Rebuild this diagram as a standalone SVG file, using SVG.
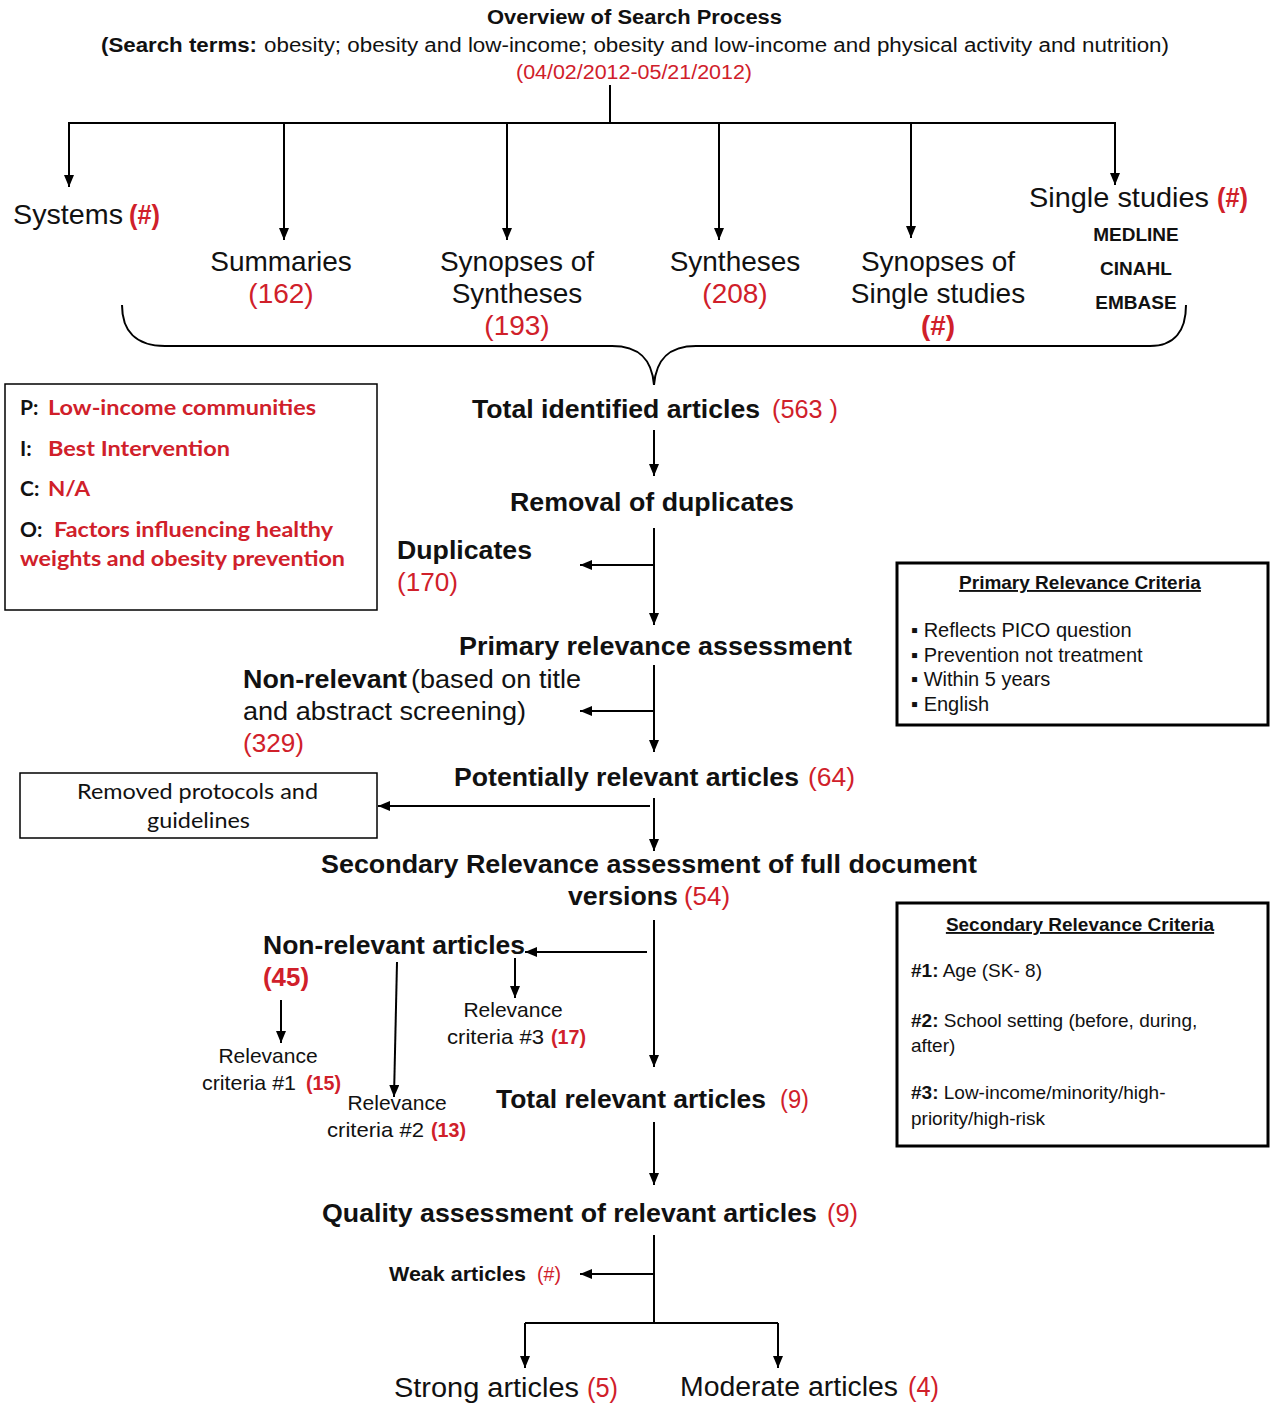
<svg xmlns="http://www.w3.org/2000/svg" width="1270" height="1403" viewBox="0 0 1270 1403">
<defs>
<marker id="ah" markerUnits="userSpaceOnUse" viewBox="0 0 12 10" markerWidth="12" markerHeight="10" refX="12" refY="5" orient="auto">
<path d="M0,0 L12,5 L0,10 z" fill="#000"/>
</marker>
<style>
.ln{stroke:#000;stroke-width:2;fill:none}
.ar{stroke:#000;stroke-width:2;fill:none;marker-end:url(#ah)}
.nar{font-family:"Liberation Sans",Arial,sans-serif;fill:#111}
.ar27{font-family:"Liberation Sans",Arial,sans-serif;font-size:28px;fill:#111}
.tah{font-family:"Liberation Sans",Arial,sans-serif;font-size:26px;font-weight:bold;fill:#111}
.cal{font-family:Lato,"Open Sans",sans-serif;font-size:21px;fill:#111}
.red{fill:#d0202a}
.box{fill:#fff;stroke:#000}
</style>
</defs>
<rect width="1270" height="1403" fill="#fff"/>

<g id="connectors">
<line class="ln" x1="610" y1="85" x2="610" y2="123"/>
<line class="ln" x1="68" y1="123" x2="1116" y2="123"/>
<line class="ar" x1="69" y1="123" x2="69" y2="187"/>
<line class="ar" x1="284" y1="123" x2="284" y2="240"/>
<line class="ar" x1="507" y1="123" x2="507" y2="240"/>
<line class="ar" x1="719" y1="123" x2="719" y2="240"/>
<line class="ar" x1="911" y1="123" x2="911" y2="238"/>
<line class="ar" x1="1115" y1="123" x2="1115" y2="185"/>
<path class="ln" d="M122,305 C122,330 135,346 165,346 L612,346 C640,346 652,360 654,385 C656,360 668,346 696,346 L1150,346 C1175,346 1186,330 1186,305"/>
<line class="ar" x1="654" y1="430" x2="654" y2="476"/>
<line class="ar" x1="654" y1="528" x2="654" y2="625"/>
<line class="ar" x1="654" y1="565" x2="580" y2="565"/>
<line class="ar" x1="654" y1="665" x2="654" y2="752"/>
<line class="ar" x1="654" y1="711" x2="580" y2="711"/>
<line class="ar" x1="654" y1="798" x2="654" y2="851"/>
<line class="ar" x1="650" y1="806" x2="378" y2="806"/>
<line class="ar" x1="654" y1="920" x2="654" y2="1067"/>
<line class="ar" x1="647" y1="952" x2="525" y2="952"/>
<line class="ar" x1="515" y1="958" x2="515" y2="998"/>
<line class="ar" x1="281" y1="1000" x2="281" y2="1043"/>
<line class="ar" x1="397" y1="962" x2="394" y2="1097"/>
<line class="ar" x1="654" y1="1122" x2="654" y2="1185"/>
<line class="ln" x1="654" y1="1235" x2="654" y2="1323"/>
<line class="ar" x1="654" y1="1274" x2="580" y2="1274"/>
<line class="ln" x1="525" y1="1323" x2="778" y2="1323"/>
<line class="ar" x1="525" y1="1323" x2="525" y2="1368"/>
<line class="ar" x1="778" y1="1323" x2="778" y2="1368"/>
</g>

<g id="header">
<text class="nar" x="487" y="24" font-size="20" font-weight="bold" textLength="295" lengthAdjust="spacingAndGlyphs">Overview of Search Process</text>
<text class="nar" x="101" y="52" font-size="20" font-weight="bold" textLength="156" lengthAdjust="spacingAndGlyphs">(Search terms:</text>
<text class="nar" x="264" y="52" font-size="20" textLength="905" lengthAdjust="spacingAndGlyphs">obesity; obesity and low-income; obesity and low-income and physical activity and nutrition)</text>
<text class="nar red" x="516" y="79" font-size="20" textLength="236" lengthAdjust="spacingAndGlyphs">(04/02/2012-05/21/2012)</text>
</g>

<g id="systems">
<text class="ar27" x="13" y="224" textLength="110" lengthAdjust="spacingAndGlyphs">Systems</text>
<text class="ar27 red" x="129" y="224" font-weight="bold" textLength="31" lengthAdjust="spacingAndGlyphs">(#)</text>
</g>
<g id="summaries" text-anchor="middle">
<text class="ar27" x="281" y="271">Summaries</text>
<text class="ar27 red" x="281" y="303">(162)</text>
</g>
<g id="synopses-syntheses" text-anchor="middle">
<text class="ar27" x="517" y="271">Synopses of</text>
<text class="ar27" x="517" y="303">Syntheses</text>
<text class="ar27 red" x="517" y="335">(193)</text>
</g>
<g id="syntheses" text-anchor="middle">
<text class="ar27" x="735" y="271">Syntheses</text>
<text class="ar27 red" x="735" y="303">(208)</text>
</g>
<g id="synopses-single" text-anchor="middle">
<text class="ar27" x="938" y="271">Synopses of</text>
<text class="ar27" x="938" y="303">Single studies</text>
<text class="ar27 red" x="938" y="335" font-weight="bold">(#)</text>
</g>
<g id="single-studies">
<text class="ar27" x="1029" y="207" textLength="180" lengthAdjust="spacingAndGlyphs">Single studies</text>
<text class="ar27 red" x="1217" y="207" font-weight="bold" textLength="31" lengthAdjust="spacingAndGlyphs">(#)</text>
<g text-anchor="middle" class="nar" font-size="19" font-weight="bold">
<text x="1136" y="241">MEDLINE</text>
<text x="1136" y="275">CINAHL</text>
<text x="1136" y="309">EMBASE</text>
</g>
</g>

<g id="pico">
<rect class="box" x="5" y="384" width="372" height="226" stroke-width="1.5"/>
<g class="cal" font-weight="bold">
<text x="20" y="415">P:</text>
<text class="red" x="48" y="415" textLength="268" lengthAdjust="spacingAndGlyphs">Low-income communities</text>
<text x="20" y="456">I:</text>
<text class="red" x="48" y="456" textLength="182" lengthAdjust="spacingAndGlyphs">Best Intervention</text>
<text x="20" y="496">C:</text>
<text class="red" x="48" y="496" textLength="42" lengthAdjust="spacingAndGlyphs">N/A</text>
<text x="20" y="537">O:</text>
<text class="red" x="54" y="537" textLength="279" lengthAdjust="spacingAndGlyphs">Factors influencing healthy</text>
<text class="red" x="20" y="566" textLength="325" lengthAdjust="spacingAndGlyphs">weights and obesity prevention</text>
</g>
</g>

<g id="total-identified">
<text class="tah" x="472" y="418" textLength="288" lengthAdjust="spacingAndGlyphs">Total identified articles</text>
<text class="nar red" x="772" y="418" font-size="26" textLength="66" lengthAdjust="spacingAndGlyphs">(563 )</text>
</g>
<g id="removal"><text class="tah" x="510" y="511" textLength="284" lengthAdjust="spacingAndGlyphs">Removal of duplicates</text></g>
<g id="duplicates">
<text class="tah" x="397" y="559" textLength="135" lengthAdjust="spacingAndGlyphs">Duplicates</text>
<text class="nar red" x="397" y="591" font-size="26" textLength="61" lengthAdjust="spacingAndGlyphs">(170)</text>
</g>
<g id="primary"><text class="tah" x="459" y="655" textLength="393" lengthAdjust="spacingAndGlyphs">Primary relevance assessment</text></g>
<g id="non-relevant-primary">
<text class="tah" x="243" y="688" textLength="164" lengthAdjust="spacingAndGlyphs">Non-relevant</text>
<text class="nar" x="411" y="688" font-size="26" textLength="170" lengthAdjust="spacingAndGlyphs">(based on title</text>
<text class="nar" x="243" y="720" font-size="26" textLength="283" lengthAdjust="spacingAndGlyphs">and abstract screening)</text>
<text class="nar red" x="243" y="752" font-size="26" textLength="61" lengthAdjust="spacingAndGlyphs">(329)</text>
</g>
<g id="potentially">
<text class="tah" x="454" y="786" textLength="345" lengthAdjust="spacingAndGlyphs">Potentially relevant articles</text>
<text class="nar red" x="808" y="786" font-size="26" textLength="47" lengthAdjust="spacingAndGlyphs">(64)</text>
</g>
<g id="removed-protocols">
<rect class="box" x="20" y="773" width="357" height="65" stroke-width="1.5"/>
<text class="cal" x="77" y="799" textLength="241" lengthAdjust="spacingAndGlyphs">Removed protocols and</text>
<text class="cal" x="147" y="828" textLength="103" lengthAdjust="spacingAndGlyphs">guidelines</text>
</g>
<g id="secondary">
<text class="tah" x="321" y="873" textLength="656" lengthAdjust="spacingAndGlyphs">Secondary Relevance assessment of full document</text>
<text class="tah" x="568" y="905" textLength="110" lengthAdjust="spacingAndGlyphs">versions</text>
<text class="nar red" x="684" y="905" font-size="26" textLength="46" lengthAdjust="spacingAndGlyphs">(54)</text>
</g>
<g id="non-relevant-articles">
<text class="tah" x="263" y="954" textLength="262" lengthAdjust="spacingAndGlyphs">Non-relevant articles</text>
<text class="nar red" x="263" y="986" font-size="26" font-weight="bold" textLength="46" lengthAdjust="spacingAndGlyphs">(45)</text>
</g>
<g id="criteria3" class="nar" font-size="21">
<text x="513" y="1017" text-anchor="middle">Relevance</text>
<text x="447" y="1044" textLength="97" lengthAdjust="spacingAndGlyphs">criteria #3</text>
<text class="red" x="551" y="1044" font-weight="bold" textLength="35" lengthAdjust="spacingAndGlyphs">(17)</text>
</g>
<g id="criteria1" class="nar" font-size="21">
<text x="268" y="1063" text-anchor="middle">Relevance</text>
<text x="202" y="1090" textLength="94" lengthAdjust="spacingAndGlyphs">criteria #1</text>
<text class="red" x="306" y="1090" font-weight="bold" textLength="35" lengthAdjust="spacingAndGlyphs">(15)</text>
</g>
<g id="criteria2" class="nar" font-size="21">
<text x="397" y="1110" text-anchor="middle">Relevance</text>
<text x="327" y="1137" textLength="97" lengthAdjust="spacingAndGlyphs">criteria #2</text>
<text class="red" x="431" y="1137" font-weight="bold" textLength="35" lengthAdjust="spacingAndGlyphs">(13)</text>
</g>
<g id="total-relevant">
<text class="tah" x="496" y="1108" textLength="270" lengthAdjust="spacingAndGlyphs">Total relevant articles</text>
<text class="nar red" x="780" y="1108" font-size="26" textLength="29" lengthAdjust="spacingAndGlyphs">(9)</text>
</g>
<g id="quality">
<text class="tah" x="322" y="1222" textLength="495" lengthAdjust="spacingAndGlyphs">Quality assessment of relevant articles</text>
<text class="nar red" x="827" y="1222" font-size="26" textLength="31" lengthAdjust="spacingAndGlyphs">(9)</text>
</g>
<g id="weak">
<text class="nar" x="389" y="1281" font-size="21" font-weight="bold" textLength="137" lengthAdjust="spacingAndGlyphs">Weak articles</text>
<text class="nar red" x="537" y="1281" font-size="21" textLength="24" lengthAdjust="spacingAndGlyphs">(#)</text>
</g>
<g id="strong">
<text class="nar" x="394" y="1397" font-size="27" textLength="185" lengthAdjust="spacingAndGlyphs">Strong articles</text>
<text class="nar red" x="587" y="1397" font-size="27" textLength="31" lengthAdjust="spacingAndGlyphs">(5)</text>
</g>
<g id="moderate">
<text class="nar" x="680" y="1396" font-size="27" textLength="218" lengthAdjust="spacingAndGlyphs">Moderate articles</text>
<text class="nar red" x="908" y="1396" font-size="27" textLength="31" lengthAdjust="spacingAndGlyphs">(4)</text>
</g>

<g id="primary-criteria">
<rect class="box" x="897" y="563" width="371" height="162" stroke-width="3"/>
<text class="nar" x="1080" y="589" text-anchor="middle" font-size="19" font-weight="bold" text-decoration="underline">Primary Relevance Criteria</text>
<g class="nar" font-size="20">
<text x="911" y="637">▪ Reflects PICO question</text>
<text x="911" y="662">▪ Prevention not treatment</text>
<text x="911" y="686">▪ Within 5 years</text>
<text x="911" y="711">▪ English</text>
</g>
</g>

<g id="secondary-criteria">
<rect class="box" x="897" y="903" width="371" height="243" stroke-width="3"/>
<text class="nar" x="1080" y="931" text-anchor="middle" font-size="19" font-weight="bold" text-decoration="underline">Secondary Relevance Criteria</text>
<g class="nar" font-size="19">
<text x="911" y="977"><tspan font-weight="bold">#1:</tspan> Age (SK- 8)</text>
<text x="911" y="1027"><tspan font-weight="bold">#2:</tspan> School setting (before, during,</text>
<text x="911" y="1052">after)</text>
<text x="911" y="1099"><tspan font-weight="bold">#3:</tspan> Low-income/minority/high-</text>
<text x="911" y="1125">priority/high-risk</text>
</g>
</g>
</svg>
